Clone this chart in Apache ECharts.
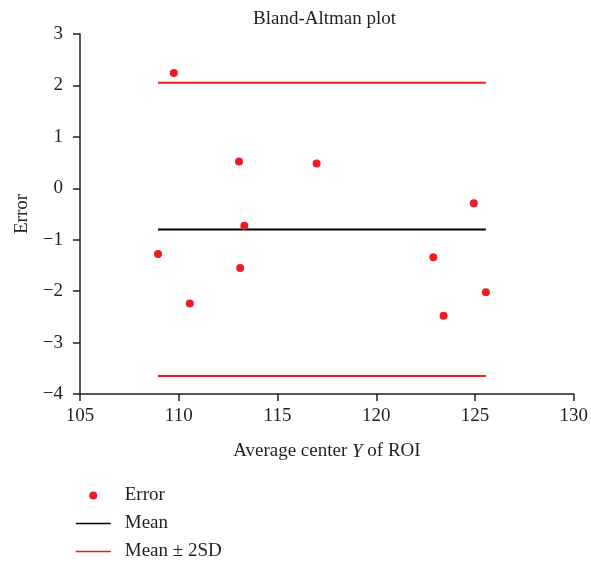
<!DOCTYPE html>
<html>
<head>
<meta charset="utf-8">
<script src="https://cdn.jsdelivr.net/npm/echarts@6/dist/echarts.min.js"></script>
<style>
  html, body { margin: 0; padding: 0; background: #fff; }
  #chart { width: 591px; height: 561px; }
</style>
</head>
<body>
<div id="chart"></div>
<script>
// data
var avgY = [109.75, 113.05, 116.98, 124.94, 113.32, 108.95, 113.11, 110.56, 122.89, 125.55, 123.41];
var errors = [2.24, 0.52, 0.48, -0.29, -0.73, -1.28, -1.55, -2.24, -1.34, -2.02, -2.48];
var meanErr = -0.8;
var upperLimit = 2.05;
var lowerLimit = -3.65;
var lineRange = [108.95, 125.55];

var font = "Liberation Serif";
var ink = "#231f20";
var red = "#ed1c24";

var points = avgY.map(function (x, i) {
  return [x, errors[i]];
});
function hline(v) {
  return [[lineRange[0], v], [lineRange[1], v]];
}
// proper minus sign like the print version
function minus(v) {
  return String(v).replace("-", "\u2212");
}

var chart = echarts.init(document.getElementById("chart"));
var option = {
  animation: false,
  textStyle: { fontFamily: font, color: ink },
  title: {
    text: "Bland-Altman plot",
    left: 248,
    top: 5,
    textStyle: { fontFamily: font, fontWeight: "normal", fontSize: 19, color: ink },
  },
  grid: { left: 80, right: 15, top: 34, bottom: 167 },
  legend: {
    orient: "vertical",
    left: 75,
    top: 486,
    padding: 0,
    height: 90,
    itemWidth: 35,
    itemHeight: 8,
    itemGap: 9,
    textStyle: { fontFamily: font, fontSize: 19, color: ink, padding: [0, 0, 0, 9] },
    data: [
      { name: "Error", icon: "circle", itemStyle: { color: red, opacity: 1 } },
      { name: "Mean", itemStyle: { opacity: 0 }, lineStyle: { color: "#000", width: 1.5 } },
      { name: "Mean ± 2SD", itemStyle: { opacity: 0 }, lineStyle: { color: red, width: 1.5 } },
    ],
  },
  xAxis: {
    type: "value",
    min: 105,
    max: 130,
    interval: 5,
    name: "Average center {i|Y} of ROI",
    nameLocation: "middle",
    nameGap: 48,
    nameTextStyle: {
      fontFamily: font,
      fontSize: 19,
      color: ink,
      rich: { i: { fontFamily: font, fontSize: 19, fontStyle: "italic", color: ink } },
    },
    splitLine: { show: false },
    axisLine: { onZero: false, lineStyle: { color: ink, width: 1.5 } },
    axisTick: { length: 7, lineStyle: { color: ink, width: 1.5 } },
    axisLabel: { fontFamily: font, fontSize: 19, color: ink, margin: 13 },
  },
  yAxis: {
    type: "value",
    min: -4,
    max: 3,
    interval: 1,
    name: "Error",
    nameLocation: "middle",
    nameGap: 48,
    nameTextStyle: { fontFamily: font, fontSize: 19, color: ink },
    splitLine: { show: false },
    axisLine: { show: true, onZero: false, lineStyle: { color: ink, width: 1.5 } },
    axisTick: { show: true, length: 7, lineStyle: { color: ink, width: 1.5 } },
    axisLabel: { fontFamily: font, fontSize: 19, color: ink, margin: 17, formatter: minus },
  },
  series: [
    {
      name: "Error",
      type: "scatter",
      symbol: "circle",
      symbolSize: 8,
      itemStyle: { color: red, opacity: 1 },
      data: points,
      z: 5,
    },
    {
      name: "Mean",
      type: "line",
      symbol: "none",
      lineStyle: { color: "#000", width: 2 },
      itemStyle: { color: "#000" },
      data: hline(meanErr),
    },
    {
      name: "Mean ± 2SD",
      type: "line",
      symbol: "none",
      lineStyle: { color: red, width: 2 },
      itemStyle: { color: red },
      data: hline(upperLimit),
    },
    {
      name: "Mean ± 2SD",
      type: "line",
      symbol: "none",
      lineStyle: { color: red, width: 2 },
      itemStyle: { color: red },
      data: hline(lowerLimit),
    },
  ],
};
chart.setOption(option);
</script>
</body>
</html>
